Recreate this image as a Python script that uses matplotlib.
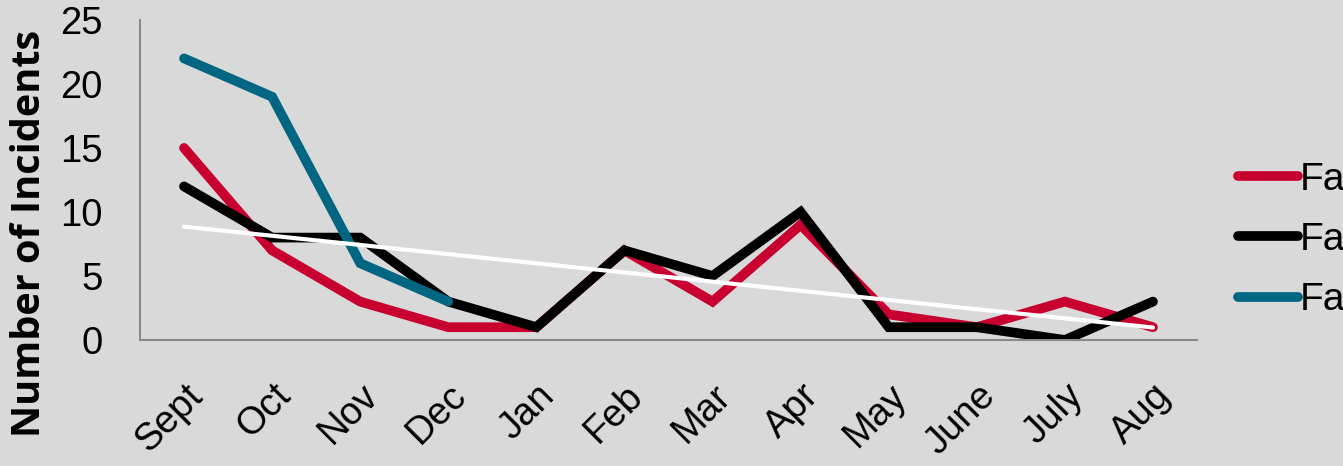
import numpy as np
import matplotlib
matplotlib.use('Agg')
import matplotlib.pyplot as plt

months = ['Sept', 'Oct', 'Nov', 'Dec', 'Jan', 'Feb', 'Mar', 'Apr',
          'May', 'June', 'July', 'Aug']
series_a = [15, 7, 3, 1, 1, 7, 3, 9, 2, 1, 3, 1]
series_b = [12, 8, 8, 3, 1, 7, 5, 10, 1, 1, 0, 3]
series_c = [22, 19, 6, 3]
labels = ['Fa', 'Fa', 'Fa']   # legend text is cut off at the edge in the source
yticks = [0, 5, 10, 15, 20, 25]

bg = '#d9d9d9'
plt.rcParams['font.family'] = ['Liberation Sans', 'DejaVu Sans']

fig = plt.figure(figsize=(13.43, 4.66), dpi=100, facecolor=bg)
ax = fig.add_axes([140 / 1343, 1 - 340 / 466, 1057 / 1343, 320 / 466])
ax.set_facecolor(bg)

x = np.arange(len(months))
style = dict(linewidth=7, solid_capstyle='round', solid_joinstyle='miter')
ax.plot(x, series_a, color='#c8002f', label=labels[0], **style)
ax.plot(x, series_b, color='black', label=labels[1], **style)
ax.plot(x[:len(series_c)], series_c, color='#006682', label=labels[2], **style)

# linear trend of the black series
k, b = np.polyfit(x, series_b, 1)
ax.plot(x, k * x + b, color='white', linewidth=3, solid_capstyle='round')

ax.set_xlim(-0.5, len(months) - 0.5)
ax.set_ylim(0, 25)
ax.set_yticks(yticks)
ax.set_xticks(x)
ax.set_xticklabels(months, rotation=45, ha='right', rotation_mode='anchor')
ax.tick_params(axis='both', length=0, labelsize=27.5)
ax.tick_params(axis='y', pad=27)
ax.tick_params(axis='x', pad=27)

for side in ['top', 'right']:
    ax.spines[side].set_visible(False)
for side in ['left', 'bottom']:
    ax.spines[side].set_color('#898989')
    ax.spines[side].set_linewidth(1.5)

fig.text(30 / 1343, 0.5, 'Number of Incidents', rotation=90,
         ha='center', va='center', fontsize=28.5, fontweight='bold',
         family=['Open Sans', 'DejaVu Sans'])

ax.legend(loc='center left', bbox_to_anchor=(1238 / 1343, 1 - 240 / 466),
          bbox_transform=fig.transFigure, frameon=False, fontsize=28,
          handlelength=1.55, handletextpad=0.05, labelspacing=0.62,
          borderpad=0, borderaxespad=0)

fig.savefig('out.png', dpi=100, facecolor=bg)
